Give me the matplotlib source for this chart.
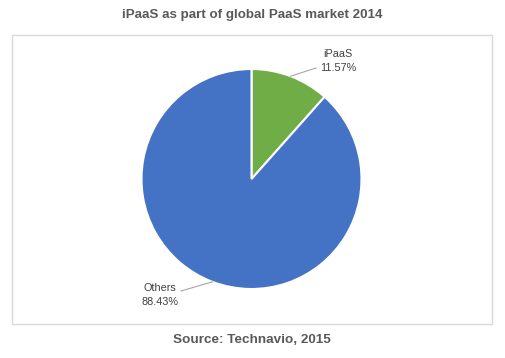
import numpy as np
import matplotlib
matplotlib.use("Agg")
from matplotlib import pyplot as plt
from matplotlib.patches import Rectangle

plt.rcParams['font.family'] = ['Liberation Sans', 'DejaVu Sans']

labels = ['iPaaS', 'Others']
shares = [11.57, 88.43]
colors = ['#70AD47', '#4472C4']
title = 'iPaaS as part of global PaaS market 2014'
source = 'Source: Technavio, 2015'

W, H = 505, 358
fig = plt.figure(figsize=(W / 100, H / 100), dpi=100)
ax = fig.add_axes([0, 0, 1, 1])
ax.set_xlim(0, W)
ax.set_ylim(0, H)
ax.axis('off')

# pixel coords from top-left -> data coords
def py(y):
    return H - y

cx, cy, r = 251.5, 179, 110

# chart frame
ax.add_patch(Rectangle((12, py(324)), 480, 289, fill=False,
                       edgecolor='#D9D9D9', linewidth=1))

wedges, _ = ax.pie(shares, colors=colors, startangle=90, counterclock=False,
                   center=(cx, py(cy)), radius=r, frame=True,
                   wedgeprops=dict(edgecolor='white', linewidth=1.5))
ax.set_xlim(0, W)
ax.set_ylim(0, H)
ax.set_aspect('equal')
ax.axis('off')

# labels with leader lines
lab_pos = [(338, 61), (160, 295)]
line_end = [(316, 68), (181, 291)]
for w, lab, val, (lx, ly), (ex, ey) in zip(wedges, labels, shares, lab_pos, line_end):
    mid = np.deg2rad((w.theta1 + w.theta2) / 2)
    sx = cx + r * np.cos(mid)
    sy = py(cy) + r * np.sin(mid)
    ax.plot([sx, ex], [sy, py(ey)], color='#A6A6A6', linewidth=0.8)
    ax.text(lx, py(ly), f'{lab}\n{val:.2f}%', ha='center', va='center',
            fontsize=7.8, color='#404040', linespacing=1.45)

ax.text(252, py(15), title, ha='center', va='center', fontsize=9.6,
        fontweight='bold', color='#595959')
ax.text(252, py(340), source, ha='center', va='center', fontsize=9.7,
        fontweight='bold', color='#595959')

fig.savefig('out.png', dpi=100)
